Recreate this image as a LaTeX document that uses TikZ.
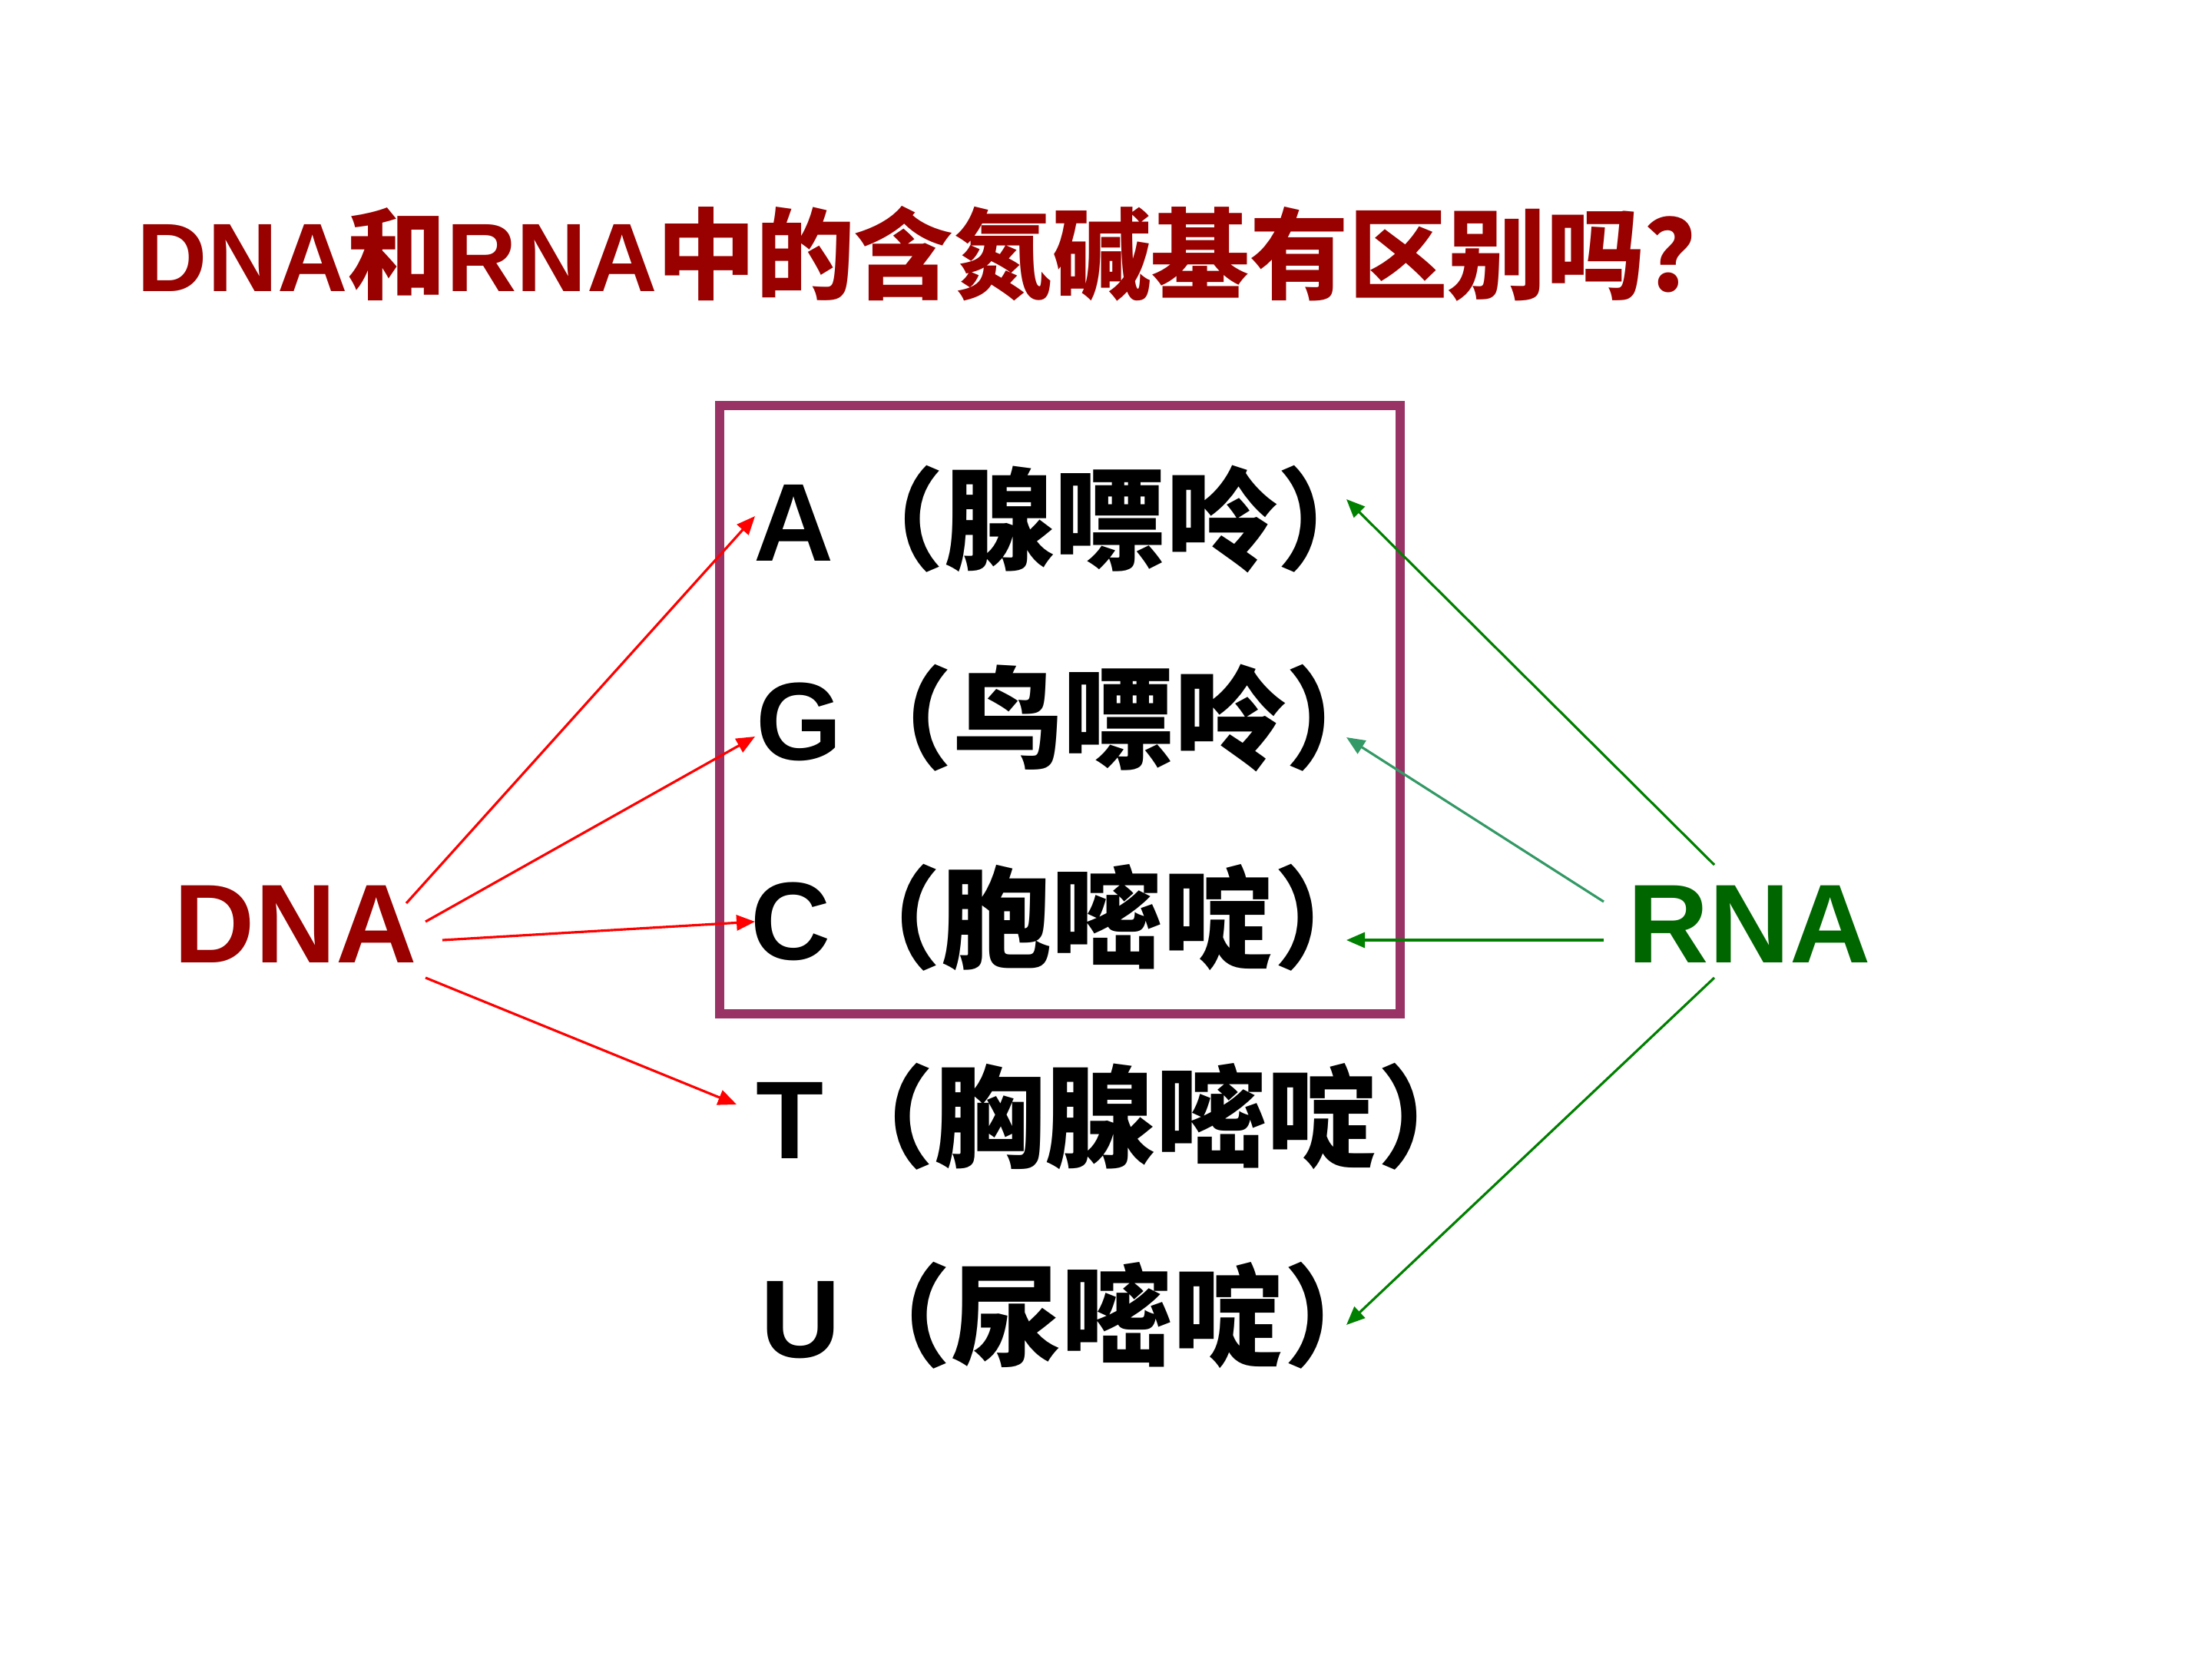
\documentclass[tikz,border=0pt]{standalone}
\usepackage{fontspec}
\setmainfont{Liberation Sans}
\newfontfamily\cjk{Noto Sans CJK SC}
\usetikzlibrary{arrows.meta}
\definecolor{titlered}{HTML}{990000}
\definecolor{rnagreen}{HTML}{006600}
\definecolor{boxpurple}{HTML}{993366}
\definecolor{arrgreen}{HTML}{008000}
\definecolor{arrteal}{HTML}{339966}
\begin{document}
\begin{tikzpicture}[
  rowtext/.style={anchor=base west,inner sep=0pt,font=\fontsize{41}{49}\selectfont\bfseries},
  biglabel/.style={anchor=base west,inner sep=0pt,font=\fontsize{41.5}{50}\selectfont\bfseries},
  redarr/.style={draw=red,line width=0.9pt,-{Triangle[length=0.24cm,width=0.2cm]}},
  greenarr/.style={draw=arrgreen,line width=0.9pt,-{Triangle[length=0.24cm,width=0.2cm]}},
  tealarr/.style={draw=arrteal,line width=0.9pt,-{Triangle[length=0.24cm,width=0.2cm]}},
  basebox/.style={draw=boxpurple,line width=3.4pt}
]
\useasboundingbox[fill=white] (0,0) rectangle (28.8,-21.6);
% title
\node[anchor=base west,inner sep=0pt,text=titlered,font=\fontsize{36}{43}\selectfont\bfseries] (title) at (1.78,-3.80)
  {DNA{\cjk\fontsize{36.6}{43}\selectfont 和}RNA{\cjk\fontsize{36.6}{43}\selectfont 中的含氮碱基有区别吗？}};
% box
\draw[basebox] (9.37,-5.28) rectangle (18.23,-13.20);
% rows
\node[rowtext] (rA) at (9.81,-7.31) {A{\cjk （腺嘌呤）}};
\node[rowtext] (rG) at (9.84,-9.90) {G{\cjk （鸟嘌呤）}};
\node[rowtext] (rC) at (9.77,-12.49) {C{\cjk （胞嘧啶）}};
\node[rowtext] (rT) at (9.84,-15.08) {T{\cjk （胸腺嘧啶）}};
\node[rowtext] (rU) at (9.90,-17.67) {U{\cjk （尿嘧啶）}};
% side labels
\node[biglabel,text=titlered] (dna) at (2.26,-12.53) {DNA};
\node[biglabel,text=rnagreen] (rna) at (21.19,-12.53) {RNA};
% arrow endpoints
\coordinate (d1) at (5.29,-11.76);
\coordinate (d2) at (5.54,-12.00);
\coordinate (d3) at (5.76,-12.24);
\coordinate (d4) at (5.54,-12.73);
\coordinate (a1) at (9.83,-6.72);
\coordinate (g1) at (9.83,-9.59);
\coordinate (c1) at (9.83,-12.00);
\coordinate (t1) at (9.59,-14.38);
\coordinate (r1) at (22.32,-11.26);
\coordinate (r2) at (20.88,-11.74);
\coordinate (r3) at (20.88,-12.24);
\coordinate (r4) at (22.32,-12.73);
\coordinate (a2) at (17.53,-6.50);
\coordinate (g2) at (17.53,-9.60);
\coordinate (c2) at (17.53,-12.24);
\coordinate (u2) at (17.53,-17.25);
\draw[redarr] (d1) -- (a1);
\draw[redarr] (d2) -- (g1);
\draw[redarr] (d3) -- (c1);
\draw[redarr] (d4) -- (t1);
\draw[greenarr] (r1) -- (a2);
\draw[tealarr] (r2) -- (g2);
\draw[greenarr] (r3) -- (c2);
\draw[greenarr] (r4) -- (u2);
\end{tikzpicture}
\end{document}
